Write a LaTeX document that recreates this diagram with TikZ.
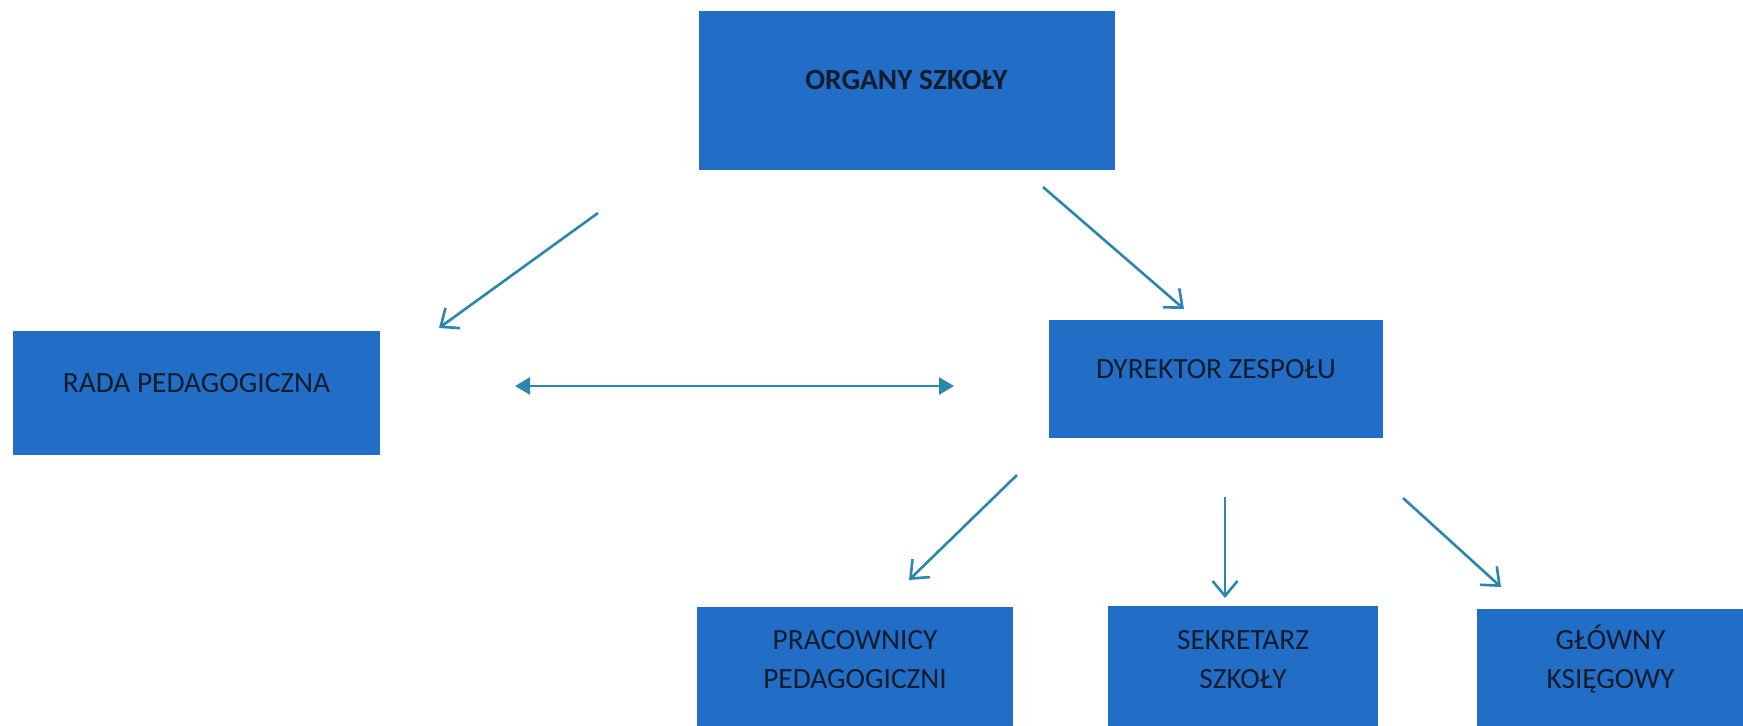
\documentclass[tikz,border=0pt]{standalone}
\usepackage{fontspec}
\setmainfont{Carlito}
\usetikzlibrary{arrows.meta}
\definecolor{boxblue}{RGB}{34,110,198}
\definecolor{arrowblue}{RGB}{44,135,175}
\definecolor{boxtext}{RGB}{20,28,45}

\begin{document}
\begin{tikzpicture}[x=0.02cm,y=-0.02cm,
    organ/.style={fill=boxblue,text=boxtext,inner sep=0pt,align=center,
        font=\fontsize{16.7}{22.2}\selectfont},
    upper/.style={organ,text height=0.38cm,text depth=0.4cm},
    link/.style={draw=arrowblue,line width=1.5pt,-{Straight Barb[length=0.3cm,width=0.5cm,line width=1.5pt]}},
    both/.style={draw=arrowblue,line width=1.5pt,{Triangle[length=0.3cm,width=0.34cm]}-{Triangle[length=0.3cm,width=0.34cm]}}]
    \useasboundingbox (0,0) rectangle (1743,726);

    \node[upper,minimum width=416*0.02cm,minimum height=159*0.02cm,font=\fontsize{16.7}{22.2}\selectfont\bfseries] (organy) at (906.5,90.5) {ORGANY SZKOŁY};
    \node[upper,minimum width=367*0.02cm,minimum height=124*0.02cm] (rada) at (196.5,393) {RADA PEDAGOGICZNA};
    \node[upper,minimum width=334*0.02cm,minimum height=118*0.02cm] (dyrektor) at (1216,379) {DYREKTOR ZESPOŁU};
    \node[organ,minimum width=316*0.02cm,minimum height=105*0.02cm] (pracownicy) at (855,659.5) {PRACOWNICY\\PEDAGOGICZNI};
    \node[organ,minimum width=270*0.02cm,minimum height=107*0.02cm] (sekretarz) at (1243,659.5) {SEKRETARZ\\SZKOŁY};
    \node[organ,minimum width=267*0.02cm,minimum height=101*0.02cm] (ksiegowy) at (1610.5,659.5) {GŁÓWNY\\KSIĘGOWY};
    \fill[boxblue] (pracownicy.south west) rectangle (pracownicy.east |- 0,740);
    \fill[boxblue] (sekretarz.south west) rectangle (sekretarz.east |- 0,740);
    \fill[boxblue] (ksiegowy.south west) rectangle (ksiegowy.east |- 0,740);

    \coordinate (o1) at (598,213);
    \coordinate (r1) at (439,328);
    \coordinate (o2) at (1043,187);
    \coordinate (d1) at (1184,309);
    \coordinate (r2) at (515,386);
    \coordinate (d2) at (954,386);
    \coordinate (d3) at (1017,475);
    \coordinate (p1) at (909,580);
    \coordinate (d4) at (1225,497);
    \coordinate (s1) at (1225,598);
    \coordinate (d5) at (1403,498);
    \coordinate (k1) at (1501,587);

    \draw[link] (o1) -- (r1);
    \draw[link] (o2) -- (d1);
    \draw[both] (r2) -- (d2);
    \draw[link] (d3) -- (p1);
    \draw[link] (d4) -- (s1);
    \draw[link] (d5) -- (k1);
\end{tikzpicture}
\end{document}
